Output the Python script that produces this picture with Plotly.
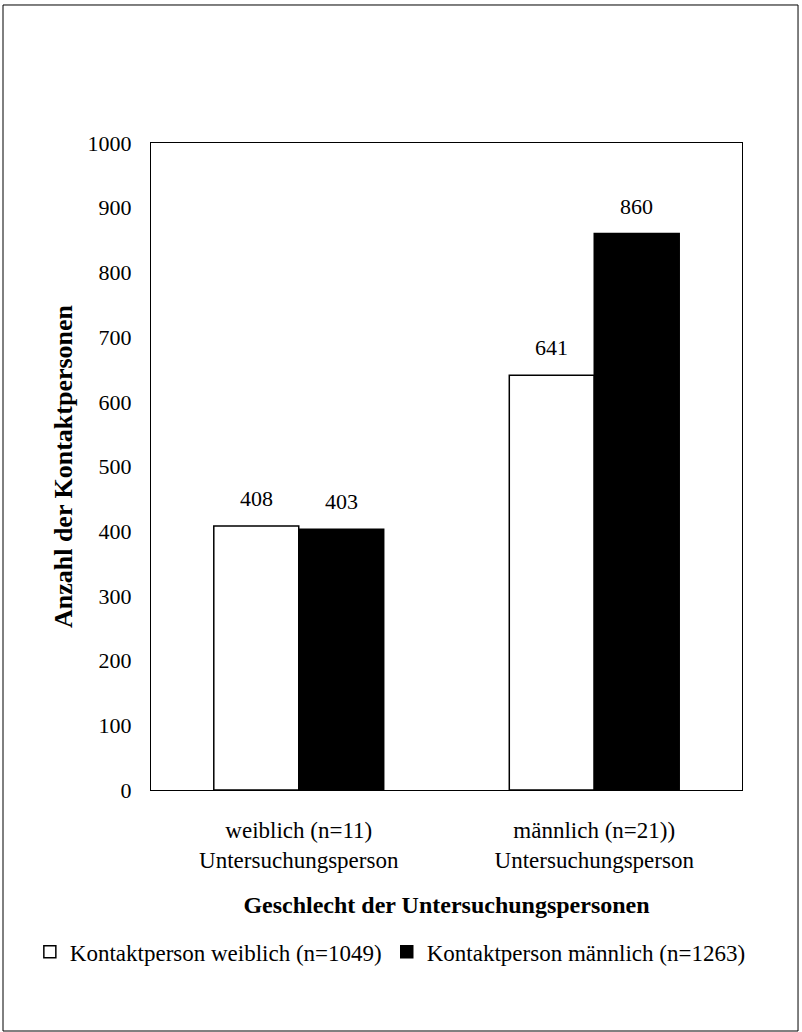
import plotly.graph_objects as go

categories = ["weiblich (n=11)<br>Untersuchungsperson", "männlich (n=21))<br>Untersuchungsperson"]
series_names = ["Kontaktperson weiblich (n=1049)", "Kontaktperson männlich (n=1263)"]
kontakt_weiblich = [408, 641]
kontakt_maennlich = [403, 860]
y_ticks = [0, 100, 200, 300, 400, 500, 600, 700, 800, 900, 1000]

FONT = "Liberation Serif, Times New Roman, serif"

fig = go.Figure()
fig.add_trace(go.Bar(
    name=series_names[0], x=categories, y=kontakt_weiblich,
    marker=dict(color="white", line=dict(color="black", width=1.5)),
    hoverinfo="skip",
))
fig.add_trace(go.Bar(
    name=series_names[1], x=categories, y=kontakt_maennlich,
    marker=dict(color="black", line=dict(color="black", width=1.5)),
    hoverinfo="skip",
))

annotations = []
for series, shift in ((kontakt_weiblich, -42.5), (kontakt_maennlich, 42.5)):
    for cat, val in zip(categories, series):
        annotations.append(dict(
            x=cat, y=val, xref="x", yref="y", text=str(val), showarrow=False,
            xshift=shift, yshift=13, yanchor="bottom",
            font=dict(family=FONT, size=22, color="black"),
        ))

fig.update_layout(
    width=802, height=1032, autosize=False,
    margin=dict(l=151, r=60, t=143, b=242, pad=0, autoexpand=False),
    paper_bgcolor="white", plot_bgcolor="white",
    font=dict(family=FONT, size=22, color="black"),
    barmode="group", bargap=0.425, bargroupgap=0,
    showlegend=True,
    legend=dict(orientation="h", x=-0.205, xanchor="left",
                y=-0.250, yanchor="middle",
                font=dict(family=FONT, size=23), tracegroupgap=0,
                itemwidth=30),
    annotations=annotations,
    xaxis=dict(
        showline=True, linecolor="black", linewidth=1, mirror=True,
        ticks="outside", ticklen=19, tickcolor="rgba(0,0,0,0)",
        tickfont=dict(family=FONT, size=23),
        showgrid=False,
        title=dict(text="<b>Geschlecht der Untersuchungspersonen</b>", standoff=24,
                   font=dict(family=FONT, size=24)),
    ),
    yaxis=dict(
        range=[0, 1000], tickvals=y_ticks,
        showline=True, linecolor="black", linewidth=1, mirror=True,
        ticks="outside", ticklen=14, tickcolor="rgba(0,0,0,0)",
        tickfont=dict(family=FONT, size=22),
        showgrid=False, zeroline=False,
        title=dict(text="<b>Anzahl der Kontaktpersonen</b>", standoff=7,
                   font=dict(family=FONT, size=26)),
    ),
    shapes=[dict(type="rect", xref="paper", yref="paper",
                 x0=-0.2504, x1=1.0948, y0=-0.3725, y1=1.2133,
                 line=dict(color="black", width=1))],
)

fig.write_html("out.html", config={"displayModeBar": False},
               post_script="document.body.style.margin='0';document.body.style.overflow='hidden';")
